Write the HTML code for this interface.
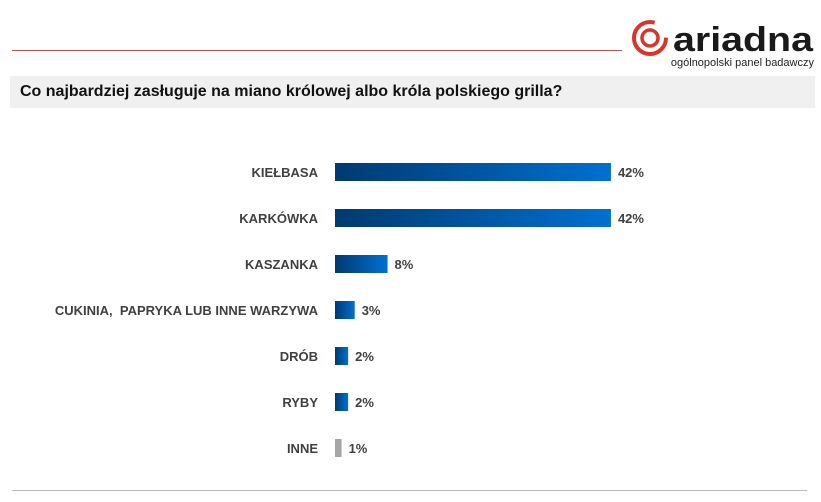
<!DOCTYPE html>
<html><head><meta charset="utf-8"><style>
body{margin:0;width:821px;height:502px;background:#fff;position:relative;overflow:hidden;font-family:"Liberation Sans",Arial,sans-serif}
</style></head><body>
<div style="position:absolute;left:12px;top:50px;width:610px;height:1px;background:#c0504d"></div>
<svg style="position:absolute;left:628px;top:18px" width="193" height="52">
<circle cx="22" cy="20" r="16" fill="none" stroke="#d9342b" stroke-width="4" stroke-dasharray="80 20"/>
<circle cx="22" cy="20" r="8" fill="none" stroke="#d9342b" stroke-width="3.5"/>
<text x="45" y="33" font-family="Liberation Sans" font-weight="bold" font-size="34" fill="#1a1a1a" textLength="140" lengthAdjust="spacingAndGlyphs">ariadna</text>
<text x="186" y="48" text-anchor="end" font-family="Liberation Sans" font-size="11" fill="#222">ogólnopolski panel badawczy</text>
</svg>
<div style="position:absolute;left:10px;top:76px;width:805px;height:32px;background:#f0f0f0;font-weight:bold;font-size:16px;line-height:32px;color:#111;padding-left:10px;box-sizing:border-box">Co najbardziej zasługuje na miano królowej albo króla polskiego grilla?</div>
<svg id="chart" style="position:absolute;left:0;top:0" width="821" height="502">
<defs><linearGradient id="g" x1="0" x2="1"><stop offset="0" stop-color="#003a70"/><stop offset="1" stop-color="#0070d0"/></linearGradient></defs>
</svg>
<div style="position:absolute;left:12px;top:490px;width:795px;height:1px;background:#bbb"></div>
<script>
const categories=["KIEŁBASA","KARKÓWKA","KASZANKA","CUKINIA,  PAPRYKA LUB INNE WARZYWA","DRÓB","RYBY","INNE"];
const values=[42,42,8,3,2,2,1];
const valueLabels=["42%","42%","8%","3%","2%","2%","1%"];
const svg=document.getElementById('chart');
const NS="http://www.w3.org/2000/svg";
const x=v=>335+v*6.57;
const y=i=>172+i*46;
categories.forEach((c,i)=>{
 const r=document.createElementNS(NS,'rect');
 
 
 r.setAttribute('x',335);r.setAttribute('y',y(i)-9);
 r.setAttribute('width',x(values[i])-335);r.setAttribute('height',18);
 r.setAttribute('fill',i==categories.length-1?'#a6a6a6':'url(#g)');
 svg.appendChild(r);
 const t=document.createElementNS(NS,'text');
 
 
 t.setAttribute('x',318);t.setAttribute('y',y(i)+5);t.setAttribute('text-anchor','end');
 t.setAttribute('font-size','13');t.setAttribute('font-weight','bold');t.setAttribute('fill','#404040');
 t.setAttribute('xml:space','preserve');t.style.whiteSpace='pre';
 t.textContent=c;svg.appendChild(t);
 const v=document.createElementNS(NS,'text');
 
 
 v.setAttribute('x',x(values[i])+7);v.setAttribute('y',y(i)+5);
 v.setAttribute('font-size','13');v.setAttribute('font-weight','bold');v.setAttribute('fill','#404040');
 v.textContent=valueLabels[i];svg.appendChild(v);
});
</script>
</body></html>
